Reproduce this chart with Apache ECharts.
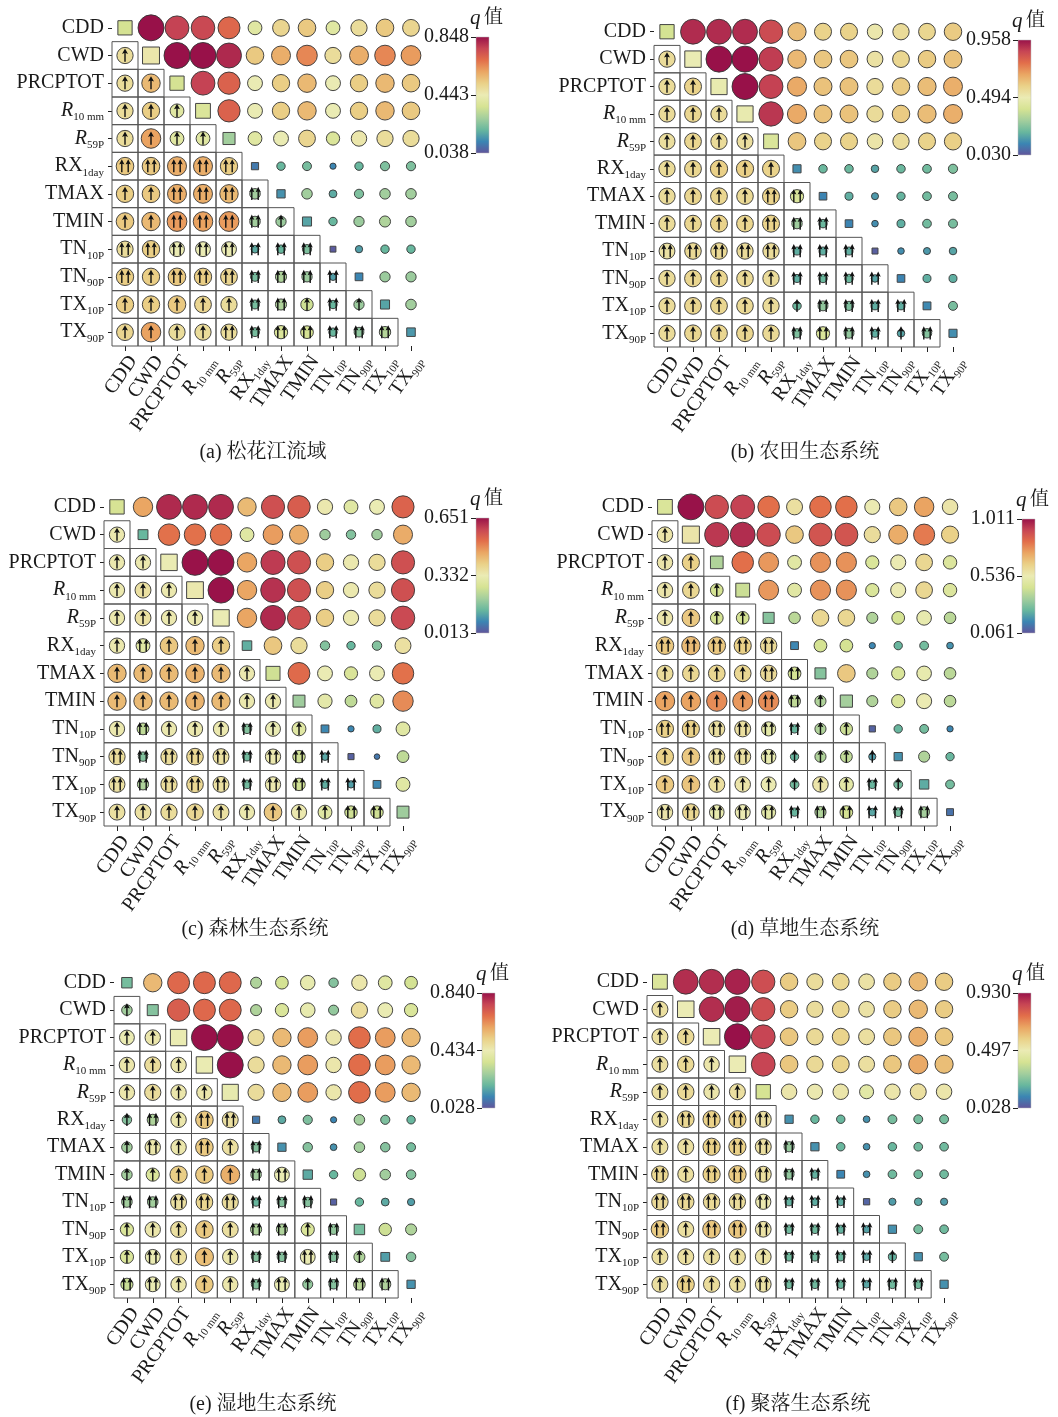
<!DOCTYPE html>
<html><head><meta charset="utf-8">
<script src="https://cdn.jsdelivr.net/npm/echarts@6/dist/echarts.min.js"></script>
<style>html,body{margin:0;padding:0;background:#fff}#c{width:1058px;height:1417px}</style>
</head><body><div id="c"></div><script>
const categories = ['CDD','CWD','PRCPTOT','R10mm','R59P','RX1day','TMAX','TMIN','TN10P','TN90P','TX10P','TX90P'];
const categoryLabels = ['{n|CDD}','{n|CWD}','{n|PRCPTOT}','{it|R}{sub|10 mm}','{it|R}{sub|59P}','{n|RX}{sub|1day}','{n|TMAX}','{n|TMIN}','{n|TN}{sub|10P}','{n|TN}{sub|90P}','{n|TX}{sub|10P}','{n|TX}{sub|90P}'];

// q-value matrices: row i, column j (i<j upper circles, i==j diagonal squares, i>j lower interaction circles)
const qA = [
[0.36,0.85,0.77,0.76,0.70,0.40,0.51,0.54,0.40,0.49,0.54,0.51],
[0.49,0.46,0.85,0.85,0.81,0.54,0.59,0.65,0.49,0.59,0.65,0.62],
[0.49,0.57,0.36,0.77,0.71,0.44,0.53,0.57,0.44,0.53,0.57,0.54],
[0.49,0.53,0.40,0.38,0.71,0.44,0.53,0.57,0.44,0.53,0.57,0.54],
[0.49,0.61,0.40,0.40,0.28,0.40,0.44,0.51,0.38,0.46,0.49,0.49],
[0.54,0.54,0.59,0.59,0.53,0.10,0.20,0.22,0.12,0.20,0.23,0.23],
[0.53,0.54,0.59,0.59,0.57,0.28,0.14,0.28,0.18,0.23,0.28,0.28],
[0.54,0.57,0.62,0.61,0.62,0.28,0.27,0.17,0.20,0.27,0.30,0.28],
[0.49,0.53,0.44,0.44,0.44,0.18,0.20,0.23,0.05,0.16,0.20,0.20],
[0.53,0.53,0.54,0.53,0.51,0.22,0.30,0.27,0.16,0.12,0.27,0.27],
[0.53,0.53,0.54,0.51,0.49,0.22,0.30,0.35,0.20,0.27,0.17,0.28],
[0.51,0.61,0.49,0.49,0.49,0.22,0.38,0.36,0.20,0.25,0.31,0.15]];
const qB = [
[0.40,0.91,0.91,0.91,0.85,0.63,0.58,0.58,0.51,0.55,0.57,0.60],
[0.55,0.49,0.96,0.96,0.88,0.64,0.61,0.61,0.53,0.57,0.60,0.62],
[0.55,0.58,0.48,0.96,0.87,0.67,0.62,0.62,0.55,0.60,0.63,0.66],
[0.55,0.57,0.55,0.48,0.89,0.67,0.62,0.62,0.55,0.60,0.63,0.66],
[0.54,0.57,0.55,0.54,0.42,0.61,0.58,0.58,0.52,0.55,0.58,0.59],
[0.55,0.57,0.59,0.59,0.58,0.14,0.22,0.22,0.18,0.22,0.23,0.25],
[0.55,0.57,0.57,0.56,0.58,0.42,0.12,0.20,0.16,0.21,0.23,0.24],
[0.55,0.57,0.58,0.57,0.58,0.30,0.22,0.12,0.14,0.20,0.23,0.24],
[0.53,0.56,0.56,0.55,0.55,0.20,0.20,0.20,0.05,0.14,0.16,0.18],
[0.55,0.57,0.57,0.56,0.55,0.20,0.22,0.22,0.18,0.12,0.20,0.20],
[0.55,0.57,0.57,0.56,0.55,0.22,0.28,0.25,0.20,0.20,0.13,0.24],
[0.55,0.57,0.57,0.57,0.56,0.25,0.42,0.28,0.20,0.18,0.26,0.14]];
const qC = [
[0.27,0.46,0.62,0.62,0.62,0.43,0.57,0.55,0.34,0.30,0.33,0.54],
[0.34,0.14,0.52,0.52,0.52,0.30,0.47,0.45,0.20,0.17,0.20,0.45],
[0.34,0.34,0.33,0.65,0.65,0.46,0.60,0.57,0.40,0.34,0.37,0.57],
[0.34,0.36,0.34,0.34,0.65,0.46,0.61,0.57,0.40,0.34,0.37,0.57],
[0.34,0.36,0.34,0.34,0.33,0.46,0.62,0.57,0.40,0.34,0.37,0.58],
[0.34,0.30,0.41,0.43,0.40,0.13,0.41,0.37,0.17,0.14,0.17,0.36],
[0.43,0.43,0.43,0.44,0.43,0.34,0.26,0.53,0.33,0.28,0.33,0.52],
[0.43,0.43,0.43,0.44,0.43,0.34,0.34,0.20,0.31,0.24,0.30,0.49],
[0.34,0.24,0.34,0.34,0.34,0.17,0.33,0.30,0.08,0.08,0.13,0.30],
[0.37,0.17,0.37,0.38,0.36,0.15,0.34,0.26,0.12,0.03,0.06,0.24],
[0.36,0.22,0.37,0.38,0.36,0.15,0.34,0.26,0.13,0.11,0.08,0.30],
[0.36,0.36,0.37,0.38,0.36,0.34,0.41,0.34,0.30,0.26,0.26,0.20]];
const qD = [
[0.46,1.01,0.90,0.92,0.82,0.58,0.82,0.82,0.54,0.65,0.73,0.56],
[0.56,0.56,0.94,0.96,0.90,0.65,0.88,0.88,0.59,0.71,0.80,0.63],
[0.56,0.63,0.37,0.82,0.75,0.49,0.76,0.76,0.46,0.54,0.61,0.47],
[0.56,0.61,0.44,0.42,0.75,0.49,0.76,0.76,0.46,0.54,0.61,0.47],
[0.56,0.65,0.44,0.44,0.30,0.39,0.61,0.61,0.37,0.44,0.52,0.39],
[0.65,0.68,0.65,0.63,0.60,0.16,0.44,0.44,0.16,0.25,0.27,0.18],
[0.59,0.61,0.61,0.61,0.60,0.44,0.30,0.65,0.37,0.46,0.52,0.39],
[0.73,0.73,0.77,0.75,0.77,0.40,0.37,0.35,0.37,0.46,0.54,0.39],
[0.63,0.63,0.58,0.58,0.50,0.25,0.37,0.42,0.09,0.25,0.27,0.16],
[0.63,0.65,0.58,0.58,0.52,0.25,0.37,0.40,0.20,0.18,0.37,0.25],
[0.65,0.66,0.58,0.56,0.54,0.27,0.56,0.50,0.25,0.27,0.23,0.27],
[0.56,0.61,0.52,0.54,0.50,0.25,0.37,0.44,0.22,0.27,0.35,0.12]];
const qE = [
[0.21,0.56,0.69,0.69,0.69,0.29,0.35,0.42,0.23,0.45,0.39,0.35],
[0.27,0.23,0.71,0.69,0.69,0.29,0.37,0.42,0.25,0.48,0.43,0.37],
[0.43,0.45,0.43,0.84,0.84,0.48,0.56,0.61,0.45,0.68,0.61,0.56],
[0.45,0.48,0.45,0.43,0.84,0.48,0.56,0.61,0.45,0.68,0.61,0.56],
[0.45,0.48,0.45,0.45,0.42,0.48,0.56,0.61,0.45,0.68,0.61,0.56],
[0.23,0.29,0.45,0.53,0.47,0.09,0.17,0.22,0.11,0.27,0.22,0.19],
[0.27,0.45,0.45,0.53,0.47,0.23,0.13,0.23,0.13,0.27,0.23,0.21],
[0.27,0.37,0.52,0.53,0.58,0.27,0.43,0.17,0.19,0.34,0.27,0.23],
[0.27,0.27,0.47,0.50,0.48,0.19,0.23,0.23,0.05,0.19,0.17,0.15],
[0.37,0.45,0.47,0.53,0.47,0.29,0.29,0.37,0.25,0.21,0.34,0.29],
[0.37,0.43,0.47,0.55,0.45,0.23,0.23,0.43,0.23,0.29,0.15,0.23],
[0.33,0.43,0.45,0.53,0.45,0.23,0.43,0.25,0.23,0.31,0.29,0.13]];
const qF = [
[0.41,0.88,0.88,0.90,0.82,0.58,0.53,0.55,0.51,0.58,0.62,0.58],
[0.52,0.48,0.88,0.91,0.82,0.58,0.53,0.55,0.51,0.58,0.62,0.58],
[0.52,0.54,0.48,0.93,0.84,0.59,0.54,0.56,0.52,0.59,0.64,0.59],
[0.52,0.54,0.50,0.48,0.84,0.59,0.54,0.56,0.52,0.59,0.65,0.61],
[0.52,0.54,0.50,0.52,0.39,0.50,0.49,0.50,0.44,0.50,0.52,0.50],
[0.52,0.55,0.57,0.57,0.52,0.14,0.21,0.21,0.14,0.23,0.23,0.23],
[0.52,0.52,0.57,0.57,0.52,0.28,0.14,0.21,0.14,0.21,0.22,0.22],
[0.55,0.52,0.57,0.58,0.52,0.27,0.20,0.12,0.14,0.22,0.22,0.22],
[0.54,0.54,0.54,0.53,0.49,0.20,0.19,0.19,0.06,0.16,0.18,0.16],
[0.58,0.52,0.59,0.59,0.51,0.22,0.22,0.20,0.17,0.14,0.23,0.22],
[0.52,0.52,0.52,0.52,0.51,0.22,0.22,0.21,0.18,0.20,0.14,0.23],
[0.52,0.57,0.53,0.52,0.51,0.22,0.22,0.21,0.18,0.22,0.22,0.14]];

// interaction type of lower cells (row 1..11): 1 = bivariate enhancement (one arrow), 2 = nonlinear enhancement (two arrows)
const typeA = ['1','11','111','1111','22222','112222','1122221','22222222','212222222','1111122121','11112222222'];
const typeB = ['1','11','111','1111','11111','111122','1111222','22222222','111112222','1111112222','11111222212'];
const typeC = ['1','11','111','1111','12111','111111','1111111','12111211','222222222','2222222222','11111111122'];
const typeD = ['1','11','111','1111','22222','111122','1111221','22222211','112221111','1111111121','22222222222'];
const typeE = ['1','11','111','1111','12122','121212','1111122','22222222','111112212','1211122221','22111221222'];
const typeF = ['1','11','111','1111','12222','112222','2122222','22222222','212222222','1111122221','12112222222'];

// colour-bar ranges and tick labels
const rangeA = [0.038, 0.848], ticksA = ['0.038','0.443','0.848'];
const rangeB = [0.030, 0.958], ticksB = ['0.030','0.494','0.958'];
const rangeC = [0.013, 0.651], ticksC = ['0.013','0.332','0.651'];
const rangeD = [0.061, 1.011], ticksD = ['0.061','0.536','1.011'];
const rangeE = [0.028, 0.840], ticksE = ['0.028','0.434','0.840'];
const rangeF = [0.028, 0.930], ticksF = ['0.028','0.497','0.930'];

const captions = ['(a) 松花江流域','(b) 农田生态系统','(c) 森林生态系统','(d) 草地生态系统','(e) 湿地生态系统','(f) 聚落生态系统'];

const panels = [
  {q:qA, t:typeA, r:rangeA, k:ticksA, grid:[112,14,312,332], bar:[476,37,13,116], cap:[263,453]},
  {q:qB, t:typeB, r:rangeB, k:ticksB, grid:[654,18,312,329], bar:[1018,40,13,115], cap:[805,453]},
  {q:qC, t:typeC, r:rangeC, k:ticksC, grid:[104,493,312,333], bar:[476,518,13,115], cap:[255,930]},
  {q:qD, t:typeD, r:rangeD, k:ticksD, grid:[652,493,311,333], bar:[1022,519,13,114], cap:[805,930]},
  {q:qE, t:typeE, r:rangeE, k:ticksE, grid:[114,969,310,329], bar:[482,993,13,115], cap:[263,1405]},
  {q:qF, t:typeF, r:rangeF, k:ticksF, grid:[647,968,310,330], bar:[1018,993,13,115], cap:[798,1405]}
];

const spectral = ['#5e4fa2','#3288bd','#66c2a5','#abdda4','#e6f598','#ffffbf','#fee08b','#fdae61','#f46d43','#d53e4f','#9e0142'];
function muted(hex) {
  const n = parseInt(hex.slice(1), 16);
  const f = c => Math.round(c * 0.86 + 16);
  return 'rgb(' + f(n >> 16 & 255) + ',' + f(n >> 8 & 255) + ',' + f(n & 255) + ')';
}
const cmap = spectral.map(muted);

const SERIF = '"Liberation Serif","Times New Roman",serif';
const CJK = '"Liberation Serif","Noto Serif CJK SC","Noto Sans CJK SC",serif';
const rich = {
  n: {fontFamily: SERIF, fontSize: 20, color: '#1a1a1a'},
  it: {fontFamily: SERIF, fontSize: 20, fontStyle: 'italic', color: '#1a1a1a'},
  sub: {fontFamily: SERIF, fontSize: 11, color: '#1a1a1a', verticalAlign: 'bottom', padding: [0, 0, -2, 0]}
};

function arrow(x, y, hw) {
  return {type: 'polygon', shape: {points: [[x, y - 7], [x + hw, y - 1.6], [x + 0.7, y - 2.4], [x + 0.7, y + 6.2], [x - 0.7, y + 6.2], [x - 0.7, y - 2.4], [x - hw, y - 1.6]]}, style: {fill: '#111'}};
}
function makeRender(lo, hi) {
  return function (params, api) {
    const xi = api.value(0), yi = api.value(1), v = api.value(2), kind = api.value(3);
    const p = api.coord([xi, yi]);
    const s = api.size([1, 1]);
    const color = api.visual('color');
    const t = Math.max(0, Math.min(1, (v - lo) / (hi - lo)));
    const d = 4 + 22 * t;
    const ch = [];
    if (kind === 3) {
      const a = d + 1.5;
      ch.push({type: 'rect', shape: {x: p[0] - a / 2, y: p[1] - a / 2, width: a, height: a}, style: {fill: color, stroke: '#444', lineWidth: 1}});
    } else {
      if (kind > 0) ch.push({type: 'rect', shape: {x: p[0] - s[0] / 2, y: p[1] - s[1] / 2, width: s[0], height: s[1]}, style: {fill: 'none', stroke: '#555', lineWidth: 1}});
      ch.push({type: 'circle', shape: {cx: p[0], cy: p[1], r: d / 2}, style: {fill: color, stroke: '#333', lineWidth: 0.9}});
      if (kind === 1) ch.push(arrow(p[0], p[1], 3.0));
      if (kind === 2) { ch.push(arrow(p[0] - 3.2, p[1], 2.6)); ch.push(arrow(p[0] + 3.2, p[1], 2.6)); }
    }
    return {type: 'group', children: ch};
  };
}

const option = {backgroundColor: '#fff', animation: false, grid: [], xAxis: [], yAxis: [], series: [], visualMap: [], graphic: []};

panels.forEach((P, pi) => {
  const g = P.grid;
  option.grid.push({left: g[0], top: g[1], width: g[2], height: g[3], containLabel: false});
  option.xAxis.push({type: 'category', gridIndex: pi, data: categories, position: 'bottom',
    axisLine: {show: false}, axisTick: {show: true, length: 5, alignWithLabel: true, lineStyle: {color: '#222'}},
    splitLine: {show: false},
    axisLabel: {rotate: 55, margin: 6, interval: 0, verticalAlign: 'top', formatter: v => categoryLabels[categories.indexOf(v)], rich: rich, fontFamily: SERIF, fontSize: 20, color: '#1a1a1a'}});
  option.yAxis.push({type: 'category', gridIndex: pi, data: categories, inverse: true,
    axisLine: {show: false}, axisTick: {show: true, length: 4, alignWithLabel: true, lineStyle: {color: '#222'}},
    splitLine: {show: false},
    axisLabel: {margin: 8, interval: 0, formatter: v => categoryLabels[categories.indexOf(v)], rich: rich, fontFamily: SERIF, fontSize: 20, color: '#1a1a1a'}});
  const data = [];
  for (let i = 0; i < 12; i++) for (let j = 0; j < 12; j++) {
    let kind = 0;
    if (i === j) kind = 3; else if (i > j) kind = +P.t[i - 1][j];
    data.push([j, i, P.q[i][j], kind]);
  }
  option.series.push({type: 'custom', name: 'panel' + pi, coordinateSystem: 'cartesian2d', xAxisIndex: pi, yAxisIndex: pi,
    renderItem: makeRender(P.r[0], P.r[1]), data: data, encode: {x: 0, y: 1}, z: 2});
  option.visualMap.push({type: 'continuous', show: false, seriesIndex: pi, dimension: 2, min: P.r[0], max: P.r[1], inRange: {color: cmap}});
});

panels.forEach((P, pi) => {
  const b = P.bar;
  const stops = cmap.slice().reverse().map((c, i) => ({offset: i / (cmap.length - 1), color: c}));
  option.grid.push({left: b[0], top: b[1], width: b[2], height: b[3], show: true, borderWidth: 0.5, borderColor: '#bbb',
    backgroundColor: new echarts.graphic.LinearGradient(0, 0, 0, 1, stops)});
  option.xAxis.push({type: 'value', gridIndex: 6 + pi, show: false, min: 0, max: 1});
  option.yAxis.push({type: 'value', gridIndex: 6 + pi, position: 'left', min: 0, max: 2, interval: 1,
    axisLine: {show: false}, splitLine: {show: false},
    axisTick: {show: true, length: 5, lineStyle: {color: '#222'}},
    axisLabel: {margin: 7, formatter: v => P.k[v], fontFamily: SERIF, fontSize: 20, color: '#1a1a1a'}});
  option.graphic.push({type: 'text', x: b[0] + b[2] / 2 + 4, y: b[1] - 19,
    style: {text: '{q|q} {z|值}', align: 'center', verticalAlign: 'middle',
      rich: {q: {fontFamily: SERIF, fontStyle: 'italic', fontSize: 21, fill: '#1a1a1a'}, z: {fontFamily: CJK, fontSize: 19, fill: '#1a1a1a'}}}});
  option.graphic.push({type: 'text', x: P.cap[0], y: P.cap[1],
    style: {text: captions[pi], align: 'center', verticalAlign: 'middle', font: '20px ' + CJK, fill: '#1a1a1a'}});
});

const chart = echarts.init(document.getElementById('c'), null, {renderer: 'canvas'});
chart.setOption(option);
</script></body></html>
